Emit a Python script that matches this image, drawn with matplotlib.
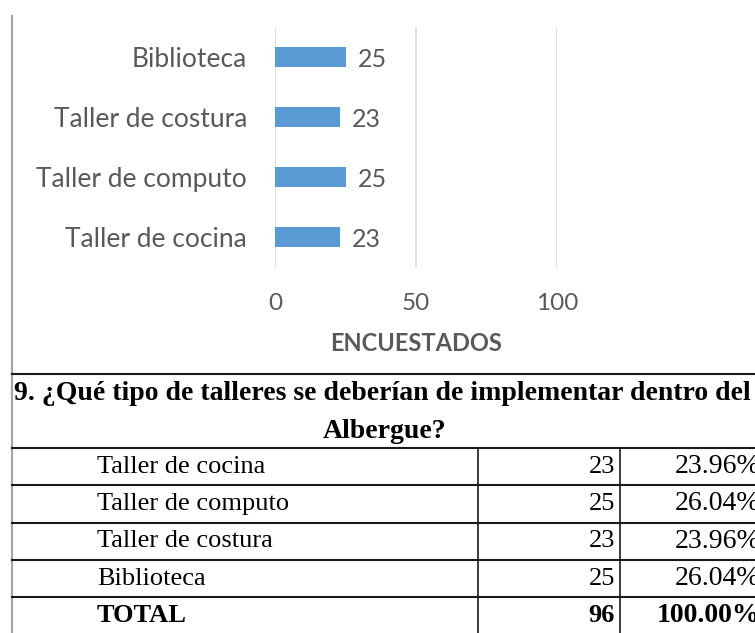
import matplotlib.pyplot as plt
from matplotlib.lines import Line2D

# chart data (bottom to top as drawn)
categories = ["Taller de cocina", "Taller de computo", "Taller de costura", "Biblioteca"]
values = [23, 25, 23, 25]
x_ticks = [0, 50, 100]
axis_title = "ENCUESTADOS"

# table data
table_question = ["9. ¿Qué tipo de talleres se deberían de implementar dentro del", "Albergue?"]
table_rows = ["Taller de cocina", "Taller de computo", "Taller de costura", "Biblioteca"]
table_counts = [23, 25, 23, 25]

W, H = 755, 633
BAR = "#5B9BD5"
GREY_TXT = "#595959"
SANS = "Lato"
SERIF = "Liberation Serif"


def fx(x):
    return x / W


def fy(y):
    return 1 - y / H


def hline(fig, x0, x1, y, color="#1a1a1a", lw=1.5):
    fig.add_artist(Line2D([fx(x0), fx(x1)], [fy(y), fy(y)], color=color, lw=lw))


def vline(fig, x, y0, y1, color="#1a1a1a", lw=1.2):
    fig.add_artist(Line2D([fx(x), fx(x)], [fy(y0), fy(y1)], color=color, lw=lw))


fig = plt.figure(figsize=(W / 100, H / 100), dpi=100)

# --- bar chart ---
ax = fig.add_axes([fx(275), fy(267), (557 - 275) / W, 240 / H])
ypos = list(range(len(categories)))
ax.barh(ypos, values, height=0.33, color=BAR, zorder=3)
for y, v in zip(ypos, values):
    ax.annotate(str(v), (v, y), xytext=(9, -2), textcoords="offset points",
                va="center", ha="left", fontsize=18, color=GREY_TXT, family=SANS)
ax.set_xlim(0, 100)
ax.set_ylim(-0.5, len(categories) - 0.5)
ax.set_xticks(x_ticks)
ax.set_yticks(ypos)
ax.set_yticklabels(categories)
ax.grid(axis="x", color="#D9D9D9", lw=1.2, zorder=0)
for s in ax.spines.values():
    s.set_visible(False)
ax.tick_params(axis="x", length=0, pad=19, labelsize=17.5, labelcolor=GREY_TXT)
ax.tick_params(axis="y", length=0, pad=20, labelsize=19, labelcolor=GREY_TXT)
for lab in ax.get_xticklabels() + ax.get_yticklabels():
    lab.set_family(SANS)
ax.set_xlabel(axis_title, fontsize=17, fontweight="bold", color=GREY_TXT,
              family=SANS, labelpad=13)

# --- table below the chart ---
vline(fig, 12, 16, H + 2, color="#a6a6a6", lw=1.6)
hline(fig, 12, W + 2, 374)
hline(fig, 12, W + 2, 448)
fig.text(fx(14), fy(394), table_question[0], ha="left", va="center",
         fontsize=20, fontweight="bold", family=SERIF)
fig.text(fx(385), fy(432), table_question[1], ha="center", va="center",
         fontsize=20, fontweight="bold", family=SERIF)

total = sum(table_counts)
labels = table_rows + ["TOTAL"]
counts = table_counts + [total]
row_top = 448
row_h = 37.3
for i, (lab, n) in enumerate(zip(labels, counts)):
    yc = row_top + row_h * (i + 0.5)
    bold = "bold" if lab == "TOTAL" else "normal"
    fig.text(fx(97), fy(yc), lab, ha="left", va="center", fontsize=19,
             fontweight=bold, family=SERIF)
    fig.text(fx(615), fy(yc), str(n), ha="right", va="center", fontsize=19,
             fontweight=bold, family=SERIF)
    # the percentage column runs slightly past the right edge, as in the source
    fig.text(fx(760), fy(yc), f"{n / total * 100:.2f}%", ha="right", va="center",
             fontsize=20, fontweight=bold, family=SERIF)
    if i > 0:
        hline(fig, 12, W + 2, row_top + row_h * i)
vline(fig, 478, 448, H + 2)
vline(fig, 620, 448, H + 2)

fig.savefig("out.png", dpi=100, facecolor="white")
